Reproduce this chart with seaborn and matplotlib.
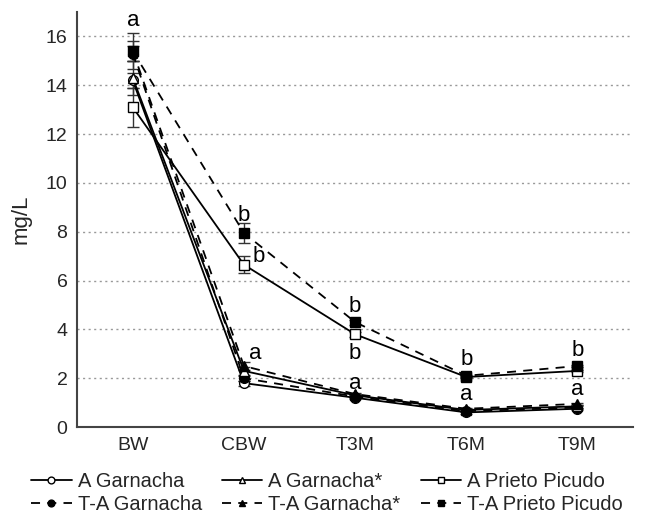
import matplotlib
matplotlib.use("Agg")
import matplotlib.pyplot as plt
import seaborn as sns
import pandas as pd
import numpy as np

sns.set_theme(style="white")
plt.rcParams['font.family'] = ['Liberation Sans', 'DejaVu Sans']

categories = ["BW", "CBW", "T3M", "T6M", "T9M"]
a_garnacha = [14.2, 1.8, 1.2, 0.6, 0.75]
a_garnacha_s = [14.3, 2.3, 1.3, 0.7, 0.85]
a_prieto = [13.1, 6.65, 3.8, 2.05, 2.3]
ta_garnacha = [15.3, 2.0, 1.25, 0.65, 0.8]
ta_garnacha_s = [15.4, 2.5, 1.35, 0.75, 0.95]
ta_prieto = [15.4, 7.95, 4.3, 2.1, 2.5]

a_garnacha_err = [0.3, 0.1, 0.05, 0.05, 0.05]
a_garnacha_s_err = [0.7, 0.15, 0.05, 0.05, 0.05]
a_prieto_err = [0.8, 0.35, 0.1, 0.05, 0.05]
ta_garnacha_err = [0.3, 0.1, 0.05, 0.05, 0.05]
ta_garnacha_s_err = [0.4, 0.15, 0.05, 0.05, 0.05]
ta_prieto_err = [0.75, 0.4, 0.1, 0.05, 0.05]

letters = [("a", 0, 16.65), ("b", 1, 8.65), ("b", 1.13, 7.0), ("a", 1.1, 3.0),
           ("b", 2, 4.95), ("b", 2, 3.0), ("a", 2, 1.8),
           ("b", 3, 2.75), ("a", 3, 1.35), ("b", 4, 3.15), ("a", 4, 1.55)]

series = [
    ("A Garnacha", a_garnacha, a_garnacha_err, "o", "-", "white"),
    ("T-A Garnacha", ta_garnacha, ta_garnacha_err, "o", (0, (5, 4)), "black"),
    ("A Garnacha*", a_garnacha_s, a_garnacha_s_err, "^", "-", "white"),
    ("T-A Garnacha*", ta_garnacha_s, ta_garnacha_s_err, "^", (0, (5, 4)), "black"),
    ("A Prieto Picudo", a_prieto, a_prieto_err, "s", "-", "white"),
    ("T-A Prieto Picudo", ta_prieto, ta_prieto_err, "s", (0, (5, 4)), "black"),
]

fig = plt.figure(figsize=(6.54, 5.24), dpi=100)
ax = fig.add_axes([0.118, 0.185, 0.85, 0.792])

x = np.arange(len(categories))
handles = []
for name, vals, errs, mk, ls, fc in series:
    df = pd.DataFrame({"x": x, "y": vals})
    ax.errorbar(x, vals, yerr=errs, fmt="none", ecolor="#333333", elinewidth=1, capsize=4, zorder=2)
    sns.lineplot(data=df, x="x", y="y", ax=ax, color="black", linestyle=ls, linewidth=1.3,
                 marker=mk, markersize=7, markerfacecolor=fc, markeredgecolor="black",
                 markeredgewidth=1, zorder=3)
    h = ax.lines[-1]
    handles.append((h, name))

for t, xi, yi in letters:
    ax.text(xi, yi, t, ha="center", va="center", fontsize=16, color="black")

ax.set_xlim(-0.5, 4.5)
ax.set_ylim(0, 17)
ax.set_xticks(x)
ax.set_xticklabels(categories, fontsize=14)
ax.set_yticks(range(0, 17, 2))
ax.set_yticklabels([str(v) for v in range(0, 17, 2)], fontsize=14)
ax.tick_params(axis="both", length=0, pad=7)
ax.set_xlabel("")
ax.set_ylabel("mg/L", fontsize=16, labelpad=10)
for yv in range(2, 17, 2):
    ax.axhline(yv, color="#999999", linestyle=(0, (1.5, 2.5)), linewidth=1, zorder=0)
for s in ["top", "right"]:
    ax.spines[s].set_visible(False)
for s in ["left", "bottom"]:
    ax.spines[s].set_color("#444444")
    ax.spines[s].set_linewidth(1.5)

fig.legend([h for h, n in handles], [n for h, n in handles], loc="lower center",
           bbox_to_anchor=(0.5, -0.015), ncol=3, frameon=False, fontsize=14.5,
           handlelength=2.0, handletextpad=0.3, columnspacing=1.0, labelspacing=0.2,
           markerscale=0.7)

fig.savefig("out.png", dpi=100)
